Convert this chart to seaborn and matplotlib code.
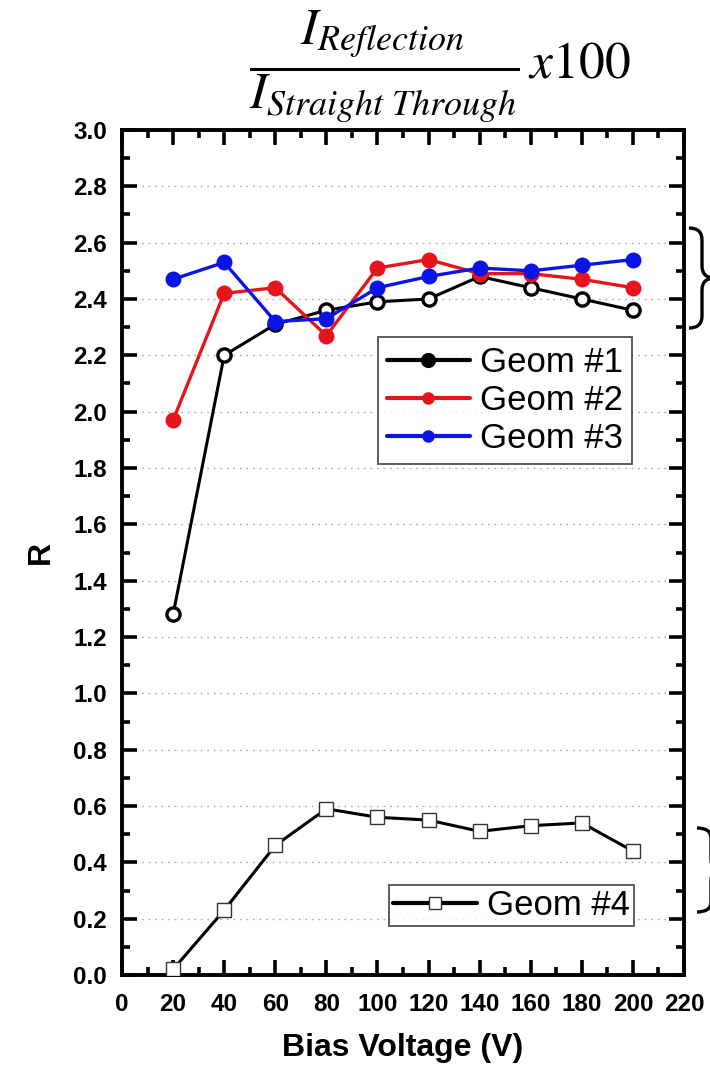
import numpy as np
import pandas as pd
import matplotlib
matplotlib.use("Agg")
import matplotlib.pyplot as plt
from matplotlib.path import Path
from matplotlib.patches import PathPatch
from matplotlib.lines import Line2D
from matplotlib.ticker import MultipleLocator, FormatStrFormatter
import seaborn as sns

# Bias voltage (V) and reflection ratio R for each geometry
bias = [20, 40, 60, 80, 100, 120, 140, 160, 180, 200]
geom1 = [1.28, 2.20, 2.31, 2.36, 2.39, 2.40, 2.48, 2.44, 2.40, 2.36]
geom2 = [1.97, 2.42, 2.44, 2.27, 2.51, 2.54, 2.49, 2.49, 2.47, 2.44]
geom3 = [2.47, 2.53, 2.32, 2.33, 2.44, 2.48, 2.51, 2.50, 2.52, 2.54]
geom4 = [0.02, 0.23, 0.46, 0.59, 0.56, 0.55, 0.51, 0.53, 0.54, 0.44]
labels = ["Geom #1", "Geom #2", "Geom #3", "Geom #4"]

df = pd.DataFrame({
    "bias": bias * 4,
    "R": geom1 + geom2 + geom3 + geom4,
    "geom": np.repeat(labels, len(bias)),
})

sns.set_style("ticks")
plt.rcParams["font.family"] = ["Liberation Sans", "DejaVu Sans"]
plt.rcParams["mathtext.fontset"] = "stix"
for key in ["text.color", "axes.labelcolor", "xtick.color", "ytick.color", "axes.edgecolor"]:
    plt.rcParams[key] = "black"

W, H = 710, 1074
fig = plt.figure(figsize=(W / 100, H / 100), dpi=100)
ax = fig.add_axes([122 / W, 1 - 975 / H, (684 - 122) / W, (975 - 130) / H])

styles = {
    "Geom #1": dict(color="black", marker="o", markersize=9.5, markerfacecolor="white",
                    markeredgecolor="black", markeredgewidth=2.4, linewidth=2.2),
    "Geom #2": dict(color="#e8141b", marker="o", markersize=11.5, markeredgewidth=0,
                    linewidth=2.4),
    "Geom #3": dict(color="#0a14e6", marker="o", markersize=11.5, markeredgewidth=0,
                    linewidth=2.4),
    "Geom #4": dict(color="black", marker="s", markersize=9.5, markerfacecolor="white",
                    markeredgecolor="#333333", markeredgewidth=1.0, linewidth=2.2),
}

for g in labels:
    sub = df[df["geom"] == g]
    sns.lineplot(data=sub, x="bias", y="R", ax=ax, legend=False, zorder=3, **styles[g])

ax.set_xlim(0, 220)
ax.set_ylim(0, 3.0)
ax.xaxis.set_major_locator(MultipleLocator(20))
ax.xaxis.set_minor_locator(MultipleLocator(10))
ax.yaxis.set_major_locator(MultipleLocator(0.2))
ax.yaxis.set_minor_locator(MultipleLocator(0.1))
ax.yaxis.set_major_formatter(FormatStrFormatter("%.1f"))

ax.tick_params(which="both", direction="in", top=True, right=True, width=2.6,
               labelsize=17.5, colors="black")
ax.tick_params(axis="y", which="major", pad=11)
ax.tick_params(axis="x", which="major", pad=13)
ax.tick_params(which="major", length=11)
ax.tick_params(which="minor", length=5.5)
for lab in ax.get_xticklabels() + ax.get_yticklabels():
    lab.set_fontweight("bold")
for sp in ax.spines.values():
    sp.set_linewidth(2.8)
    sp.set_color("black")

ax.grid(axis="y", which="major", linestyle=(0, (1.2, 3.5)), color="#aaaaaa", linewidth=1.0)
ax.set_axisbelow(True)

ax.set_xlabel("Bias Voltage (V)", fontsize=23, fontweight="bold", labelpad=12)
ax.set_ylabel("R", fontsize=23, fontweight="bold", labelpad=12)

def handle(g):
    s = dict(styles[g])
    s["linewidth"] = 3.0
    if g == "Geom #1":
        s.update(markerfacecolor="black", markersize=8.5)
    elif g == "Geom #4":
        s.update(markersize=8.5)
    else:
        s.update(markersize=9)
    return Line2D([], [], **s)

leg_kw = dict(loc="upper left", fontsize=25, frameon=True, fancybox=False,
              edgecolor="#333333", handlelength=2.4, handletextpad=0.3,
              borderaxespad=0)
leg1 = ax.legend(handles=[handle(g) for g in labels[:3]], labels=labels[:3],
                 bbox_to_anchor=((378 - 122) / 562, 1 - (337 - 130) / 845),
                 labelspacing=0.15, borderpad=0.25, **leg_kw)
leg1.get_frame().set_linewidth(1.4)
ax.add_artist(leg1)

leg2 = ax.legend(handles=[handle("Geom #4")], labels=["Geom #4"],
                 bbox_to_anchor=((389 - 122) / 562, 1 - (885 - 130) / 845),
                 borderpad=0.12, **leg_kw)
leg2.get_frame().set_linewidth(1.4)

# Ratio definition above the plot
fig.text(440 / W, 1 - 66 / H, r"$\dfrac{I_{Reflection}}{I_{Straight\ Through}}\,x100$",
         fontsize=37, ha="center", va="center")

# Curly braces grouping the curves on the right margin
def brace(x0, x1, ytop, ybot, lw=2.4):
    xm = (x0 + x1) / 2
    ymid = (ytop + ybot) / 2
    r = (ybot - ytop) * 0.12
    pts = [(x0, ytop), (xm, ytop), (xm, ytop + r),
           (xm, ymid - r), (xm, ymid), (x1, ymid),
           (xm, ymid), (xm, ymid + r),
           (xm, ybot - r), (xm, ybot), (x0, ybot)]
    codes = [Path.MOVETO, Path.CURVE3, Path.CURVE3,
             Path.LINETO, Path.CURVE3, Path.CURVE3,
             Path.CURVE3, Path.CURVE3,
             Path.LINETO, Path.CURVE3, Path.CURVE3]
    pts = [(x / W, 1 - y / H) for x, y in pts]
    fig.patches.append(PathPatch(Path(pts, codes), transform=fig.transFigure,
                                 fill=False, lw=lw, edgecolor="black"))

brace(689, 715, 228, 328)
brace(697, 725, 828, 912)

fig.savefig("out.png", dpi=100)
